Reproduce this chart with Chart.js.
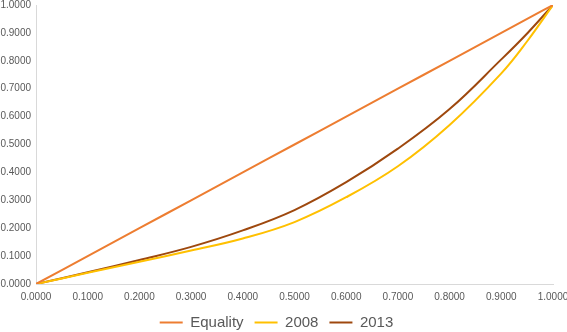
<!DOCTYPE html>
<html>
<head>
<meta charset="utf-8">
<script src="https://cdn.jsdelivr.net/npm/chart.js@4/dist/chart.umd.min.js"></script>
<style>
html,body{margin:0;padding:0;background:#fff;}
#wrap{width:567px;height:332px;position:relative;}
</style>
</head>
<body>
<div id="wrap"><canvas id="c" width="567" height="332"></canvas></div>
<script>
const xShares = [0, 0.1, 0.2, 0.3, 0.4, 0.5, 0.6, 0.7, 0.8, 0.9, 0.95, 1.0];
const equality = [0, 0.1, 0.2, 0.3, 0.4, 0.5, 0.6, 0.7, 0.8, 0.9, 0.95, 1.0];
const y2008 = [0, 0.040, 0.080, 0.120, 0.163, 0.222, 0.311, 0.422, 0.570, 0.755, 0.870, 1.0];
const y2013 = [0, 0.042, 0.086, 0.133, 0.192, 0.265, 0.365, 0.485, 0.627, 0.805, 0.898, 1.0];
const seriesNames = ['Equality', '2008', '2013'];
const seriesColors = ['#ED7D31', '#FFC000', '#9E480E'];

const toPts = ys => xShares.map((x, i) => ({x: x, y: ys[i]}));
const allSeries = [equality, y2008, y2013];

const datasets = allSeries.map((ys, i) => ({
  label: seriesNames[i],
  data: toPts(ys),
  borderColor: seriesColors[i],
  backgroundColor: seriesColors[i],
  borderWidth: 2,
  pointRadius: 0,
  pointStyle: 'line',
  tension: 0.4,
  fill: false
}));

const tickFont = {family: 'Liberation Sans', size: 10};

const legendSize = {
  id: 'legendSize',
  beforeLayout(chart) {
    const lg = chart.legend;
    if (lg && !lg._sized) {
      const f = lg.fit.bind(lg);
      lg.fit = function () { f(); this.height = 28; };
      lg._sized = true;
    }
  }
};

new Chart(document.getElementById('c'), {
  type: 'line',
  data: {datasets: datasets},
  plugins: [legendSize],
  options: {
    responsive: false,
    animation: false,
    layout: {padding: {left: 0, right: 14, top: 5, bottom: 0}},
    scales: {
      x: {
        type: 'linear', min: 0, max: 1,
        grid: {display: false, drawTicks: false},
        border: {display: true, color: '#d9d9d9', width: 1},
        ticks: {stepSize: 0.1, color: '#595959', font: tickFont, padding: 7,
          maxRotation: 0, callback: v => Number(v).toFixed(4)},
        afterFit: s => { s.height = 20; s.paddingRight = 0; s.paddingLeft = 0; }
      },
      y: {
        type: 'linear', min: 0, max: 1,
        grid: {display: false, drawTicks: false},
        border: {display: true, color: '#d9d9d9', width: 1},
        ticks: {stepSize: 0.1, color: '#595959', font: tickFont, padding: 5,
          callback: v => Number(v).toFixed(4)},
        afterFit: s => { s.width = 36; s.paddingTop = 0; s.paddingBottom = 0; }
      }
    },
    plugins: {
      legend: {
        position: 'bottom',
        labels: {
          usePointStyle: true,
          pointStyleWidth: 23,
          color: '#595959',
          font: {family: 'Liberation Sans', size: 15},
          padding: 11,
          boxHeight: 15
        }
      },
      tooltip: {enabled: false}
    }
  }
});
</script>
</body>
</html>
